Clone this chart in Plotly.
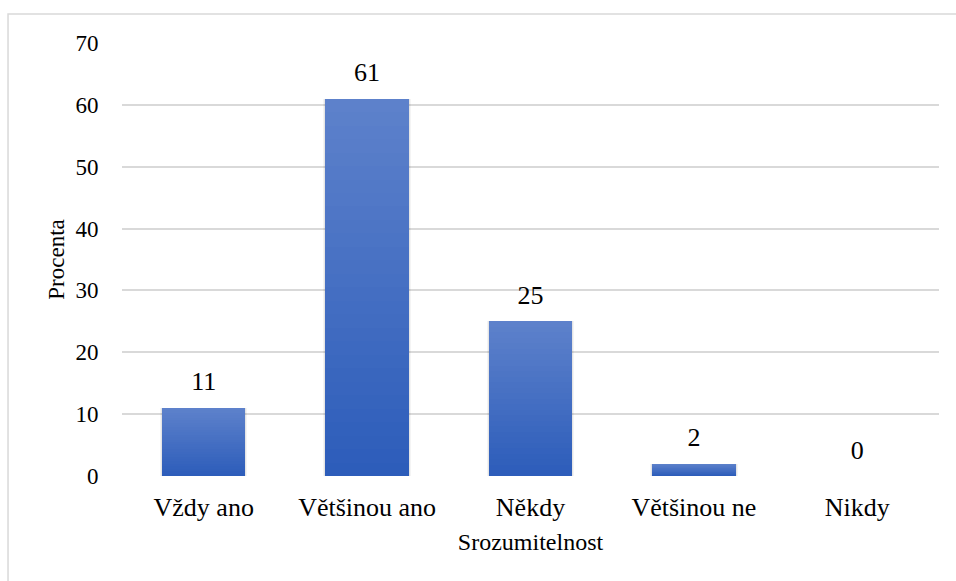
import plotly.graph_objects as go

# Survey answers: how understandable the information was (percent of respondents)
categories = ["Vždy ano", "Většinou ano", "Někdy", "Většinou ne", "Nikdy"]
percent = [11, 61, 25, 2, 0]
y_ticks = [0, 10, 20, 30, 40, 50, 60, 70]

FONT = "Liberation Serif"
TOP_RGB = (93, 129, 203)
BOTTOM_RGB = (45, 93, 186)
STEPS = 28
BAR_WIDTH = 0.51

fig = go.Figure()

# soft shadow behind each column
for w, a in [(0.535, 0.045), (0.522, 0.06)]:
    fig.add_trace(go.Bar(
        x=categories, y=percent, width=w,
        marker=dict(color=f"rgba(0,0,0,{a})", line=dict(width=0)),
        hoverinfo="skip", showlegend=False,
    ))

# vertical gradient: stacked overlays, each shorter one a bit darker
for k in range(STEPS):
    frac = 1 - k / STEPS
    t = k / (STEPS - 1)
    rgb = tuple(round(TOP_RGB[i] + (BOTTOM_RGB[i] - TOP_RGB[i]) * t) for i in range(3))
    fig.add_trace(go.Bar(
        x=categories, y=[v * frac for v in percent], width=BAR_WIDTH,
        marker=dict(color=f"rgb{rgb}", line=dict(width=0)),
        hoverinfo="skip", showlegend=False,
    ))

# value labels above the columns
fig.add_trace(go.Scatter(
    x=categories, y=percent, mode="markers+text",
    marker=dict(size=16, opacity=0),
    text=[str(v) for v in percent], textposition="top center",
    textfont=dict(family=FONT, size=26, color="#000000"),
    hoverinfo="skip", showlegend=False, cliponaxis=False,
))

fig.update_layout(
    width=956, height=581,
    margin=dict(l=122, r=17, t=43, b=105),
    paper_bgcolor="white", plot_bgcolor="white",
    barmode="overlay", bargap=0,
    font=dict(family=FONT, color="#000000"),
    xaxis=dict(
        title=dict(text="Srozumitelnost", font=dict(family=FONT, size=24), standoff=11),
        tickfont=dict(family=FONT, size=26),
        showgrid=False, showline=False, zeroline=False,
        ticks="outside", ticklen=8, tickcolor="rgba(0,0,0,0)",
    ),
    yaxis=dict(
        title=dict(text="Procenta", font=dict(family=FONT, size=23), standoff=4),
        range=[0, 70], tickvals=y_ticks,
        tickfont=dict(family=FONT, size=23),
        showgrid=True, gridcolor="#d9d9d9", gridwidth=1.5,
        zeroline=False, showline=False,
        ticks="outside", ticklen=18, tickcolor="rgba(0,0,0,0)",
    ),
    shapes=[dict(
        type="rect", xref="paper", yref="paper",
        x0=-0.1395, x1=1.2, y0=-0.5, y1=1.067,
        line=dict(color="#d9d9d9", width=1.5), fillcolor="rgba(0,0,0,0)",
        layer="below",
    )],
)

fig.write_html("out.html")
